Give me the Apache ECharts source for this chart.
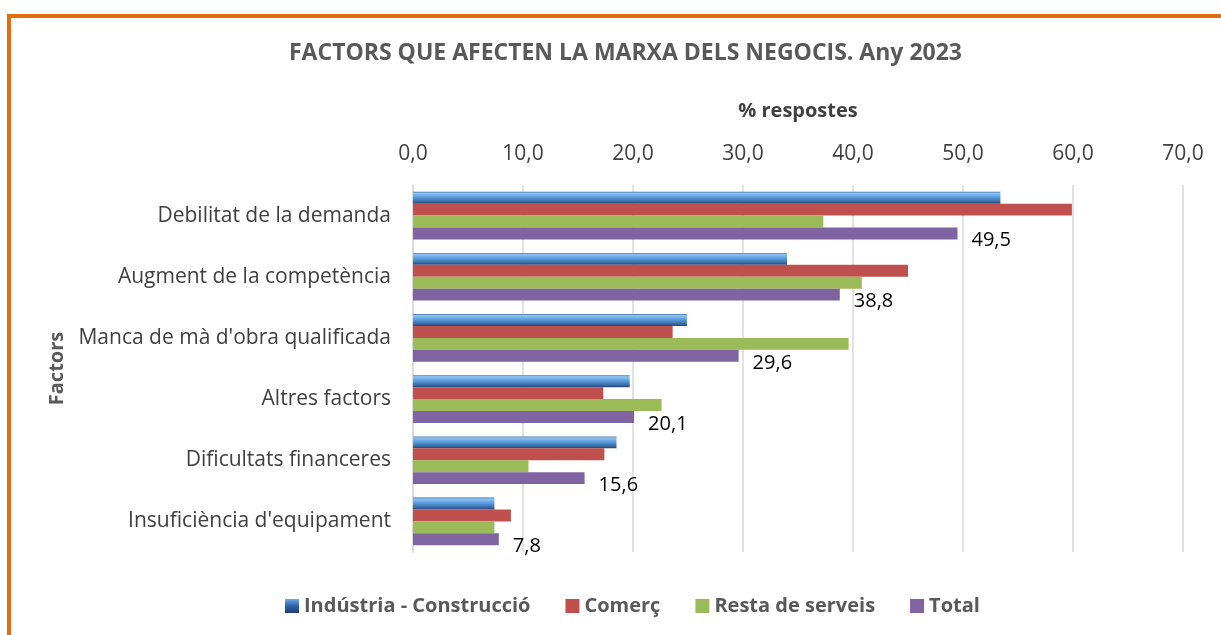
<!DOCTYPE html>
<html>
<head>
<meta charset="utf-8">
<script src="https://cdn.jsdelivr.net/npm/echarts@6/dist/echarts.min.js"></script>
<style>
  html, body { margin: 0; padding: 0; background: #fff; }
  #chart { width: 1221px; height: 635px; }
</style>
</head>
<body>
<div id="chart"></div>
<script>
// dades llegides del gràfic (de dalt a baix)
var factors = ["Debilitat de la demanda", "Augment de la competència", "Manca de mà d'obra qualificada", "Altres factors", "Dificultats financeres", "Insuficiència d'equipament"];
var industria = [53.4, 34.0, 24.9, 19.7, 18.5, 7.4];
var comerc = [59.9, 45.0, 23.6, 17.3, 17.4, 8.9];
var serveis = [37.3, 40.8, 39.6, 22.6, 10.5, 7.4];
var total = [49.5, 38.8, 29.6, 20.1, 15.6, 7.8];
var seriesNames = ["Indústria - Construcció", "Comerç", "Resta de serveis", "Total"];

var font = "Open Sans";
var blueGrad = new echarts.graphic.LinearGradient(0, 0, 0, 1, [
  { offset: 0, color: '#3f6fa8' },
  { offset: 0.12, color: '#8fc4f4' },
  { offset: 0.45, color: '#5d9ee0' },
  { offset: 0.8, color: '#3a6ea8' },
  { offset: 1, color: '#23467a' }
]);
var legendBlue = new echarts.graphic.LinearGradient(0, 0, 0, 1, [
  { offset: 0, color: '#6fa8e8' },
  { offset: 0.5, color: '#2f62a8' },
  { offset: 1, color: '#1f3f70' }
]);

var fmt = function (v) { return v.toFixed(1).replace('.', ','); };

var myChart = echarts.init(document.getElementById('chart'));
var option = {
  animation: false,
  textStyle: { fontFamily: font },
  graphic: [{
    type: 'rect',
    shape: { x: 9, y: 16, width: 1240, height: 660 },
    style: { fill: 'none', stroke: '#E46C0A', lineWidth: 4 }
  }],
  title: {
    text: 'FACTORS QUE AFECTEN LA MARXA DELS NEGOCIS. Any 2023',
    left: 284,
    top: 37,
    textStyle: { fontSize: 23, fontWeight: 'bold', color: '#595959', fontFamily: font }
  },
  legend: {
    bottom: 14,
    left: 280,
    icon: 'rect',
    itemWidth: 14,
    itemHeight: 14,
    itemGap: 35,
    textStyle: { fontSize: 20, fontWeight: 'bold', color: '#595959', fontFamily: font },
    data: [
      { name: seriesNames[0], itemStyle: { color: legendBlue } },
      { name: seriesNames[1] },
      { name: seriesNames[2] },
      { name: seriesNames[3] }
    ]
  },
  grid: { left: 413, right: 38, top: 185, bottom: 83 },
  xAxis: {
    type: 'value',
    position: 'top',
    min: 0,
    max: 70,
    interval: 10,
    name: '% respostes',
    nameLocation: 'middle',
    nameGap: 64,
    nameTextStyle: { fontSize: 20, fontWeight: 'bold', color: '#404040', fontFamily: font },
    axisLine: { show: false },
    axisTick: { show: false },
    axisLabel: { fontSize: 21, color: '#404040', margin: 20, formatter: fmt },
    splitLine: { lineStyle: { color: '#d9d9d9', width: 1.5 } }
  },
  yAxis: {
    type: 'category',
    inverse: true,
    data: factors,
    name: 'Factors',
    nameLocation: 'middle',
    nameRotate: 90,
    nameGap: 339,
    nameTextStyle: { fontSize: 20, fontWeight: 'bold', color: '#595959', fontFamily: font },
    axisLine: { lineStyle: { color: '#d9d9d9', width: 1.5 } },
    axisTick: { show: false },
    axisLabel: { fontSize: 21, color: '#404040', margin: 22, padding: [6, 0, 0, 0] }
  },
  series: [
    {
      name: seriesNames[0], type: 'bar', data: industria,
      barGap: '0%', barCategoryGap: '22%',
      itemStyle: { color: blueGrad }
    },
    {
      name: seriesNames[1], type: 'bar', data: comerc,
      itemStyle: { color: '#C0504D' }
    },
    {
      name: seriesNames[2], type: 'bar', data: serveis,
      itemStyle: { color: '#9BBB59' }
    },
    {
      name: seriesNames[3], type: 'bar', data: total,
      itemStyle: { color: '#8064A2' },
      label: {
        show: true, position: 'right', distance: 14, offset: [0, 7],
        fontSize: 20, color: '#000', fontFamily: font,
        formatter: function (p) { return fmt(p.value); }
      }
    }
  ]
};
myChart.setOption(option);
</script>
</body>
</html>
